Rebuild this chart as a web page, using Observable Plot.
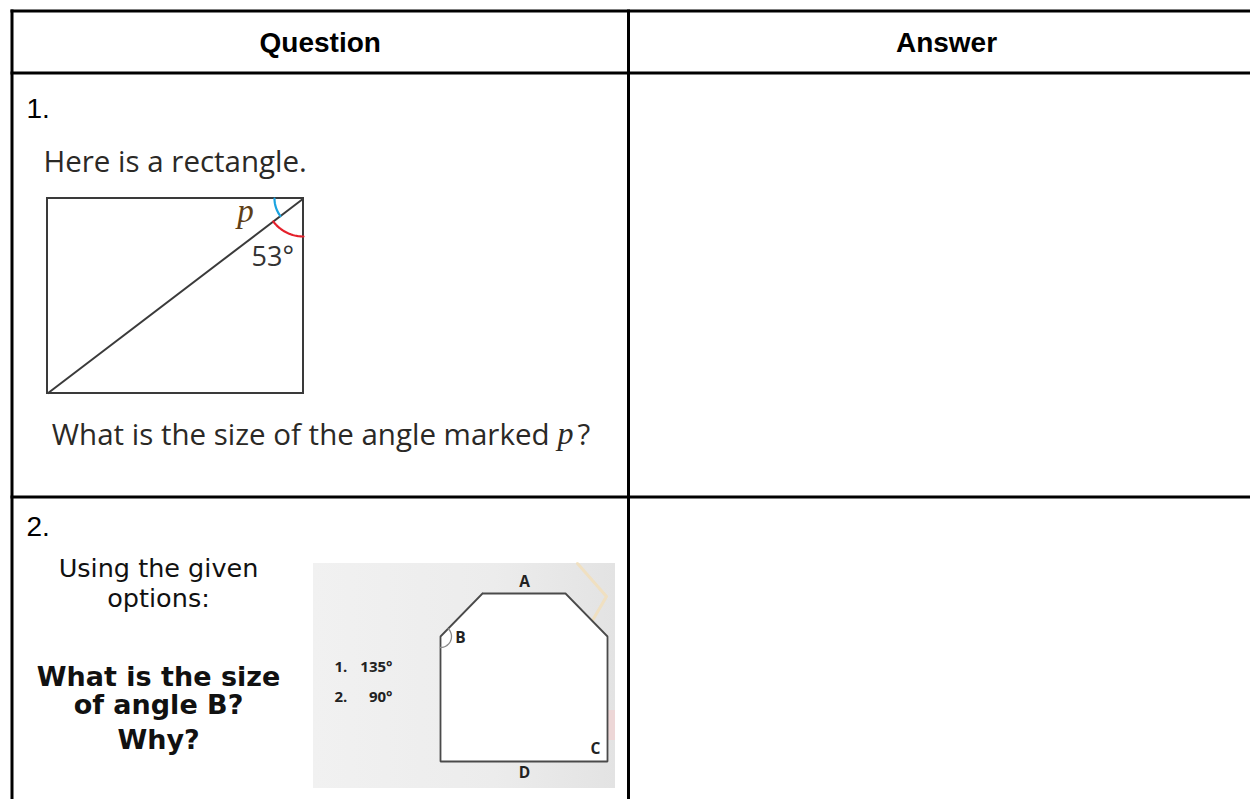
<!DOCTYPE html>
<html>
<head>
<meta charset="utf-8">
<script src="https://cdn.jsdelivr.net/npm/d3@7"></script>
<script src="https://cdn.jsdelivr.net/npm/@observablehq/plot@0.6"></script>
<style>
  html, body { margin: 0; padding: 0; background: #ffffff; }
  #chart { width: 1250px; height: 799px; overflow: hidden; }
</style>
</head>
<body>
<div id="chart"></div>
<script>
// ---------------- content ----------------
const headers = ["Question", "Answer"];
const rowNumbers = ["1.", "2."];

// Question 1
const q1Intro = "Here is a rectangle.";
const q1Ask = "What is the size of the angle marked";
const q1Variable = "p";
const q1Known = "53°";

// Question 2
const q2Intro = ["Using the given", "options:"];
const q2Ask = ["What is the size", "of angle B?", "Why?"];
const q2OptionNumbers = ["1.", "2."];
const q2OptionValues = ["135°", "90°"];
const q2VertexLabels = ["A", "B", "C", "D"];

// ---------------- layout ----------------
const W = 1250, H = 799;
const table = {left: 11.5, right: 1264, top: 10.5, head: 72.5, row1: 496.5, col: 628, bottom: 820};
const rowTops = [table.head, table.row1];

// rectangle diagram (question 1)
const rect = {x1: 47, y1: 198, x2: 303, y2: 393};
// hexagon diagram (question 2)
const panel = {x1: 313, y1: 563, x2: 615, y2: 788};
const hexagon = [
  {x: 482, y: 593}, {x: 565, y: 593}, {x: 607, y: 636},
  {x: 607, y: 761}, {x: 440, y: 761}, {x: 440, y: 636}
];
const vertexLabelPos = [
  {x: 524, y: 582}, {x: 460, y: 638}, {x: 595, y: 749}, {x: 524, y: 773}
];

// table rules
const tableLines = [
  {x1: table.left, y1: table.top, x2: table.right, y2: table.top},
  {x1: table.left, y1: table.head, x2: table.right, y2: table.head},
  {x1: table.left, y1: table.row1, x2: table.right, y2: table.row1},
  {x1: table.left, y1: table.top, x2: table.left, y2: table.bottom},
  {x1: table.col, y1: table.top, x2: table.col, y2: table.bottom},
  {x1: table.right, y1: table.top, x2: table.right, y2: table.bottom}
];

// arc helper (angles in screen degrees, y down)
function arc(cx, cy, r, a0, a1, n = 32) {
  return d3.range(n + 1).map(i => {
    const a = (a0 + (a1 - a0) * i / n) * Math.PI / 180;
    return {x: cx + r * Math.cos(a), y: cy + r * Math.sin(a)};
  });
}
// diagonal of rectangle, from top-right corner to bottom-left
const diagAngle = Math.atan2(rect.y2 - rect.y1, rect.x1 - rect.x2) * 180 / Math.PI;
const blueArc = arc(rect.x2, rect.y1, 29, 180, diagAngle);
const redArc = arc(rect.x2, rect.y1, 38, diagAngle, 90);
const bArc = arc(hexagon[5].x, hexagon[5].y, 11, -46, 90);

const NS = "http://www.w3.org/2000/svg";
function defsMark() {
  const defs = document.createElementNS(NS, "defs");
  const g = document.createElementNS(NS, "linearGradient");
  g.setAttribute("id", "panelGrad");
  g.setAttribute("x1", "0"); g.setAttribute("x2", "1");
  g.setAttribute("y1", "0"); g.setAttribute("y2", "0");
  [["0", "#f1f1f1"], ["0.6", "#ececec"], ["1", "#e3e3e3"]].forEach(([o, c]) => {
    const s = document.createElementNS(NS, "stop");
    s.setAttribute("offset", o); s.setAttribute("stop-color", c);
    g.appendChild(s);
  });
  defs.appendChild(g);
  return defs;
}

const sans = "'Liberation Sans', Arial, sans-serif";
const infant = "'Open Sans', sans-serif";
const comic = "'DejaVu Sans', sans-serif";
const serif = "'Liberation Serif', 'DejaVu Serif', serif";

const chart = Plot.plot({
  width: W,
  height: H,
  margin: 0,
  x: {type: "linear", domain: [0, W], range: [0, W], axis: null},
  y: {type: "linear", domain: [0, H], range: [0, H], axis: null},
  style: {background: "#ffffff"},
  marks: [
    defsMark,
    // headers
    Plot.text(headers, {
      x: (d, i) => i === 0 ? (table.left + table.col) / 2 : (table.col + table.right) / 2,
      y: (table.top + table.head) / 2 + 1,
      text: d => d,
      fontFamily: sans, fontWeight: "bold", fontSize: 28, fill: "#000"
    }),
    // row numbers
    Plot.text(rowNumbers, {
      x: 26, y: (d, i) => rowTops[i] + (i === 0 ? 36 : 30),
      text: d => d, textAnchor: "start",
      fontFamily: sans, fontSize: 28, fill: "#000"
    }),
    // ---- question 1 ----
    Plot.text([q1Intro], {
      x: 43, y: 162, text: d => d, textAnchor: "start",
      fontFamily: infant, fontSize: 29.5, fill: "#2b2926"
    }),
    Plot.rect([rect], {
      x1: "x1", y1: "y1", x2: "x2", y2: "y2",
      fill: "none", stroke: "#3a3a3a", strokeWidth: 2
    }),
    Plot.link([rect], {
      x1: "x1", y1: "y2", x2: "x2", y2: "y1",
      stroke: "#3a3a3a", strokeWidth: 2
    }),
    Plot.line(blueArc, {x: "x", y: "y", stroke: "#1aa3e0", strokeWidth: 2.2}),
    Plot.line(redArc, {x: "x", y: "y", stroke: "#e5202b", strokeWidth: 2.2}),
    Plot.text([q1Variable], {
      x: 245, y: 211, text: d => d,
      fontFamily: serif, fontStyle: "italic", fontSize: 33, fill: "#5e3f18"
    }),
    Plot.text([q1Known], {
      x: 251, y: 257, text: d => d, textAnchor: "start",
      fontFamily: infant, fontSize: 27, fill: "#333"
    }),
    Plot.text([q1Ask], {
      x: 549, y: 435, text: d => d, textAnchor: "end",
      fontFamily: infant, fontSize: 29.5, fill: "#2b2926"
    }),
    Plot.text([q1Variable], {
      x: 565, y: 433, text: d => d,
      fontFamily: serif, fontStyle: "italic", fontSize: 32, fill: "#2b2926"
    }),
    Plot.text(["?"], {
      x: 577, y: 435, text: d => d, textAnchor: "start",
      fontFamily: infant, fontSize: 29.5, fill: "#2b2926"
    }),
    // ---- question 2 ----
    Plot.text(q2Intro, {
      x: 158, y: (d, i) => 568 + i * 30, text: d => d,
      fontFamily: comic, fontSize: 25.5, fill: "#111"
    }),
    Plot.text(q2Ask, {
      x: 158, y: (d, i) => [677, 705, 740][i], text: d => d,
      fontFamily: comic, fontWeight: "bold", fontSize: 27, fill: "#111"
    }),
    Plot.rect([panel], {
      x1: "x1", y1: "y1", x2: "x2", y2: "y2", fill: "url(#panelGrad)"
    }),
    Plot.line([{x: 577, y: 563}, {x: 606, y: 596}, {x: 592, y: 620}], {
      x: "x", y: "y", stroke: "#f3dfb8", strokeWidth: 3, strokeOpacity: 0.8
    }),
    Plot.rect([{x1: 604, y1: 710, x2: 615, y2: 740}], {
      x1: "x1", y1: "y1", x2: "x2", y2: "y2", fill: "#efd3d3", fillOpacity: 0.8
    }),
    Plot.line([...hexagon, hexagon[0]], {
      x: "x", y: "y", fill: "#ffffff", stroke: "#4a4a4a", strokeWidth: 1.8,
      strokeLinejoin: "miter"
    }),
    Plot.line(bArc, {x: "x", y: "y", stroke: "#8a8a8a", strokeWidth: 1.3}),
    Plot.text(q2VertexLabels, {
      x: (d, i) => vertexLabelPos[i].x, y: (d, i) => vertexLabelPos[i].y,
      text: d => d, fontFamily: infant, fontWeight: "bold", fontSize: 15.5, fill: "#222"
    }),
    Plot.text(q2OptionNumbers, {
      x: 334, y: (d, i) => 667 + i * 30, text: d => d, textAnchor: "start",
      fontFamily: infant, fontWeight: "bold", fontSize: 15, fill: "#222"
    }),
    Plot.text(q2OptionValues, {
      x: 392, y: (d, i) => 667 + i * 30, text: d => d, textAnchor: "end",
      fontFamily: infant, fontWeight: "bold", fontSize: 15, fill: "#222"
    }),
    // table rules on top
    Plot.link(tableLines, {
      x1: "x1", y1: "y1", x2: "x2", y2: "y2",
      stroke: "#000", strokeWidth: 3, strokeLinecap: "square"
    })
  ]
});

document.getElementById("chart").appendChild(chart);
</script>
</body>
</html>
